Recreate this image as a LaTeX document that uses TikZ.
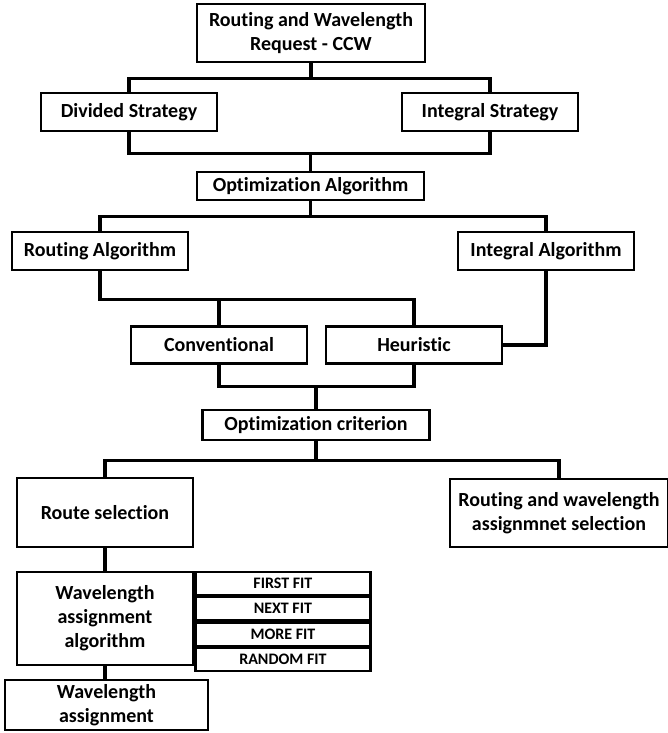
\documentclass[tikz,border=0pt]{standalone}
\usepackage{fontspec}
\setmainfont[Ligatures=NoCommon]{Carlito}
\tikzset{
  box/.style={draw,line width=2.6pt,align=center,inner sep=2pt,
              font=\bfseries\fontsize{20}{24}\selectfont},
  fitbox/.style={draw,line width=2.2pt,minimum width=175pt,minimum height=23.2pt,
              inner sep=0pt,font=\bfseries\fontsize{16}{18}\selectfont},
  link/.style={line width=3.2pt},
}
\begin{document}
\begin{tikzpicture}[x=1pt,y=-1pt]
  \useasboundingbox (0,0) rectangle (667,733);
  % request and strategies
  \node[box,minimum width=228pt,minimum height=58pt] (req) at (311,33)
     {Routing and Wavelength\\Request - CCW};
  \node[box,minimum width=176pt,minimum height=38pt] (div) at (129,112) {Divided Strategy};
  \node[box,minimum width=176pt,minimum height=38pt] (ints) at (490,112) {Integral Strategy};
  \node[box,minimum width=227pt,minimum height=28pt] (optalg) at (310.5,186) {Optimization Algorithm};
  % algorithms
  \node[box,minimum width=176pt,minimum height=38pt] (ralg) at (100,251) {Routing Algorithm};
  \node[box,minimum width=176pt,minimum height=38pt] (ialg) at (546,251) {Integral Algorithm};
  \node[box,minimum width=176pt,minimum height=37pt] (conv) at (219,345) {Conventional};
  \node[box,minimum width=176pt,minimum height=37pt] (heur) at (414,345) {Heuristic};
  \node[box,minimum width=227pt,minimum height=30pt] (optcrit) at (316,425) {Optimization criterion};
  % selection
  \node[box,minimum width=176pt,minimum height=69pt] (rsel) at (105,512.5) {Route selection};
  \node[box,minimum width=218pt,minimum height=68pt] (rwsel) at (559,513)
     {Routing and wavelength\\assignmnet selection};
  \node[box,minimum width=176pt,minimum height=93pt] (waa) at (105,618.5)
     {Wavelength\\assignment\\algorithm};
  \node[fitbox,anchor=north west] (ff) at (waa.north east) {FIRST FIT};
  \node[fitbox,anchor=north] (nf) at (ff.south) {NEXT FIT};
  \node[fitbox,anchor=north] (mf) at (nf.south) {MORE FIT};
  \node[fitbox,anchor=north] (rf) at (mf.south) {RANDOM FIT};
  \node[box,minimum width=203pt,minimum height=50pt] (wa) at (106.5,705)
     {Wavelength\\assignment};
  % connectors
  \draw[link] (req.south) -- ++(0,15) -| (div.north);
  \draw[link] (req.south) ++(0,15) -| (ints.north);
  \draw[link] (div.south) -- ++(0,21) coordinate (busa) -| (ints.south);
  \draw[link] (optalg.north) -- (optalg.north |- busa);
  \draw[link] (optalg.south) -- ++(0,15) -| (ralg.north);
  \draw[link] (optalg.south) ++(0,15) -| (ialg.north);
  \draw[link] (ralg.south) -- ++(0,28) coordinate (busb) -| (heur.north);
  \draw[link] (conv.north) -- (conv.north |- busb);
  \draw[link] (ialg.south) |- (heur.east);
  \draw[link] (conv.south) -- ++(0,22) coordinate (busc) -| (heur.south);
  \draw[link] (optcrit.north) -- (optcrit.north |- busc);
  \draw[link] (optcrit.south) -- ++(0,19) -| (rsel.north);
  \draw[link] (optcrit.south) ++(0,19) -| (rwsel.north);
  \draw[link] (rsel.south) -- (waa.north);
  \draw[link] (waa.south) -- (waa.south |- wa.north);
\end{tikzpicture}
\end{document}
